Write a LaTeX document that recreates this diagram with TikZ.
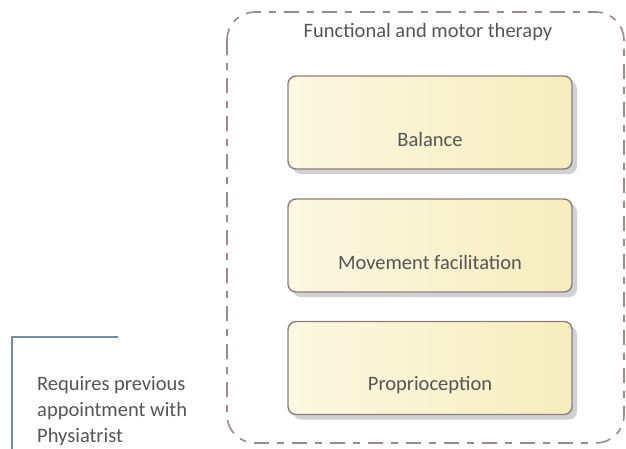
\documentclass[tikz,border=0pt]{standalone}
\usepackage{fontspec}
\setmainfont{Carlito}
\usetikzlibrary{shadows}
\definecolor{framegray}{HTML}{9E8A8A}
\definecolor{boxedge}{HTML}{8E7C7C}
\definecolor{fillleft}{HTML}{FCF8E2}
\definecolor{fillright}{HTML}{F6EDBE}
\definecolor{inkgray}{HTML}{555555}
\definecolor{notecol}{HTML}{6F8FA0}
\begin{document}
\begin{tikzpicture}[x=1pt,y=-1pt,
  font=\fontsize{20.5}{26}\selectfont,
  frame/.style={draw=framegray, line width=1.6pt,
    dash pattern=on 15pt off 8pt on 7pt off 8pt, rounded corners=28pt},
  activity/.style={draw=boxedge, line width=1.4pt, rounded corners=8pt,
    left color=fillleft, right color=fillright,
    minimum width=284pt, minimum height=93pt, inner sep=0pt,
    drop shadow={shadow xshift=5pt, shadow yshift=-5pt, fill=black!18, opacity=1}},
  boxtext/.style={text=inkgray, inner sep=0pt},
  notetext/.style={text=inkgray, inner sep=0pt, align=left}]
\useasboundingbox (0,0) rectangle (626,448);

% enclosing group
\draw[frame] (227,12) rectangle (624,443);
\node[boxtext] (title) at (428,32) {Functional and motor therapy};

% activities
\node[activity] (balance) at (430,122.5) {};
\node[boxtext] (balancetxt) at ([yshift=-17pt]balance.center) {Balance};

\node[activity] (movement) at (430,245.5) {};
\node[boxtext] (movementtxt) at ([yshift=-17pt]movement.center) {Movement facilitation};

\node[activity] (proprio) at (430,368) {};
\node[boxtext] (propriotxt) at ([yshift=-17pt]proprio.center) {Proprioception};

% note
\draw[notecol, line width=1.3pt] (118,337) -- (12,337) -- (12,449);
\node[notetext, anchor=base west] (note) at (37,442)
  {Requires previous\\appointment with\\Physiatrist};
\end{tikzpicture}
\end{document}
